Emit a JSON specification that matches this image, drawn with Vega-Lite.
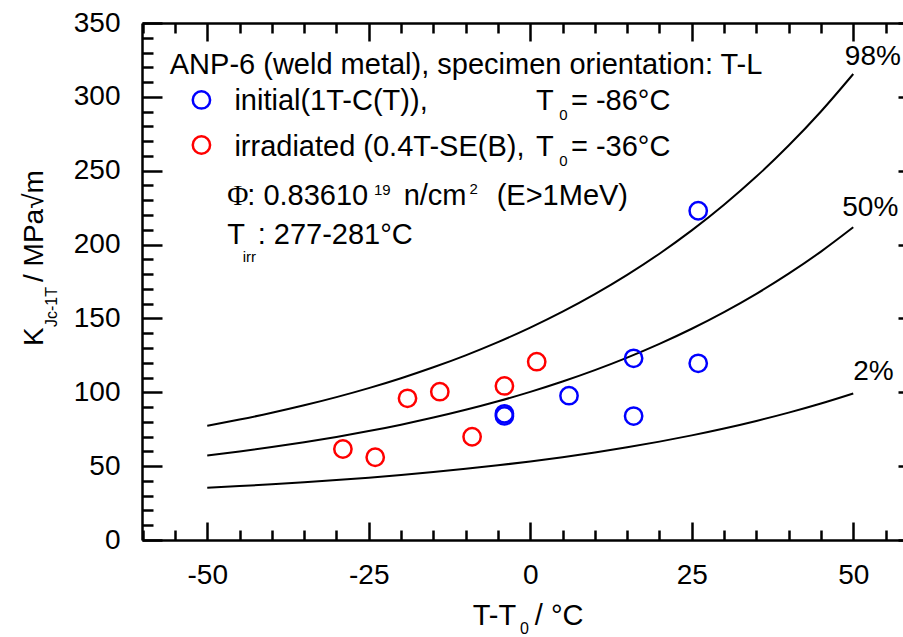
{
  "$schema": "https://vega.github.io/schema/vega-lite/v6.json",
  "width": 761,
  "height": 517,
  "autosize": {"type": "none"},
  "padding": {"left": 142, "top": 23, "right": 0, "bottom": 97},
  "background": "white",
  "config": {"view": {"stroke": null}, "axis": {"grid": false}, "font": "Liberation Sans"},
  "datasets": {
    "curves": [
      {"p": "98%", "T": -50, "K": 77.35}, {"p": "98%", "T": -45, "K": 81.52}, {"p": "98%", "T": -40, "K": 86.11}, {"p": "98%", "T": -35, "K": 91.16}, {"p": "98%", "T": -30, "K": 96.71}, {"p": "98%", "T": -25, "K": 102.81}, {"p": "98%", "T": -20, "K": 109.53}, {"p": "98%", "T": -15, "K": 116.91}, {"p": "98%", "T": -10, "K": 125.02}, {"p": "98%", "T": -5, "K": 133.95}, {"p": "98%", "T": 0, "K": 143.76}, {"p": "98%", "T": 5, "K": 154.55}, {"p": "98%", "T": 10, "K": 166.42}, {"p": "98%", "T": 15, "K": 179.47}, {"p": "98%", "T": 20, "K": 193.82}, {"p": "98%", "T": 25, "K": 209.6}, {"p": "98%", "T": 30, "K": 226.96}, {"p": "98%", "T": 35, "K": 246.03}, {"p": "98%", "T": 40, "K": 267.02}, {"p": "98%", "T": 45, "K": 290.1}, {"p": "98%", "T": 50, "K": 315.48},
      {"p": "50%", "T": -50, "K": 57.21}, {"p": "50%", "T": -45, "K": 59.92}, {"p": "50%", "T": -40, "K": 62.9}, {"p": "50%", "T": -35, "K": 66.17}, {"p": "50%", "T": -30, "K": 69.77}, {"p": "50%", "T": -25, "K": 73.73}, {"p": "50%", "T": -20, "K": 78.09}, {"p": "50%", "T": -15, "K": 82.88}, {"p": "50%", "T": -10, "K": 88.14}, {"p": "50%", "T": -5, "K": 93.93}, {"p": "50%", "T": 0, "K": 100.3}, {"p": "50%", "T": 5, "K": 107.3}, {"p": "50%", "T": 10, "K": 115.0}, {"p": "50%", "T": 15, "K": 123.47}, {"p": "50%", "T": 20, "K": 132.78}, {"p": "50%", "T": 25, "K": 143.02}, {"p": "50%", "T": 30, "K": 154.28}, {"p": "50%", "T": 35, "K": 166.66}, {"p": "50%", "T": 40, "K": 180.28}, {"p": "50%", "T": 45, "K": 195.25}, {"p": "50%", "T": 50, "K": 211.71},
      {"p": "2%", "T": -50, "K": 35.38}, {"p": "2%", "T": -45, "K": 36.5}, {"p": "2%", "T": -40, "K": 37.73}, {"p": "2%", "T": -35, "K": 39.08}, {"p": "2%", "T": -30, "K": 40.57}, {"p": "2%", "T": -25, "K": 42.2}, {"p": "2%", "T": -20, "K": 44.0}, {"p": "2%", "T": -15, "K": 45.98}, {"p": "2%", "T": -10, "K": 48.16}, {"p": "2%", "T": -5, "K": 50.55}, {"p": "2%", "T": 0, "K": 53.18}, {"p": "2%", "T": 5, "K": 56.07}, {"p": "2%", "T": 10, "K": 59.25}, {"p": "2%", "T": 15, "K": 62.75}, {"p": "2%", "T": 20, "K": 66.6}, {"p": "2%", "T": 25, "K": 70.83}, {"p": "2%", "T": 30, "K": 75.48}, {"p": "2%", "T": 35, "K": 80.6}, {"p": "2%", "T": 40, "K": 86.22}, {"p": "2%", "T": 45, "K": 92.41}, {"p": "2%", "T": 50, "K": 99.21}
    ],
    "points": [
      {"series": "initial", "T": -4, "K": 84.0},
      {"series": "initial", "T": -4, "K": 85.4},
      {"series": "initial", "T": 6, "K": 97.7},
      {"series": "initial", "T": 16, "K": 123.0},
      {"series": "initial", "T": 16, "K": 83.9},
      {"series": "initial", "T": 26, "K": 119.6},
      {"series": "initial", "T": 26, "K": 222.9},
      {"series": "irradiated", "T": -29, "K": 61.6},
      {"series": "irradiated", "T": -24, "K": 56.0},
      {"series": "irradiated", "T": -19, "K": 95.9},
      {"series": "irradiated", "T": -14, "K": 100.4},
      {"series": "irradiated", "T": -9, "K": 69.9},
      {"series": "irradiated", "T": -4, "K": 104.3},
      {"series": "irradiated", "T": 1, "K": 120.7}
    ],
    "legendSymbols": [
      {"series": "initial", "x": -50.9, "y": 297.9},
      {"series": "irradiated", "x": -50.9, "y": 267.4}
    ],
    "curveLabels": [
      {"x": 48.7, "y": 321.6, "label": "98%"},
      {"x": 48.3, "y": 219.3, "label": "50%"},
      {"x": 50.0, "y": 108.3, "label": "2%"}
    ],
    "legendText": [
      {"x": -55.8, "y": 315.5, "label": "ANP-6 (weld metal), specimen orientation: T-L"},
      {"x": -45.8, "y": 291.1, "label": "initial(1T-C(T)),"},
      {"x": 0.9, "y": 291.1, "label": "T"},
      {"x": 6.3, "y": 291.1, "label": "= -86°C"},
      {"x": -45.8, "y": 260.0, "label": "irradiated (0.4T-SE(B),"},
      {"x": 0.9, "y": 260.0, "label": "T"},
      {"x": 6.3, "y": 260.0, "label": "= -36°C"},
      {"x": -43.8, "y": 226.8, "label": ": 0.83610"},
      {"x": -19.6, "y": 226.8, "label": "n/cm"},
      {"x": -5.2, "y": 226.8, "label": "(E>1MeV)"},
      {"x": -46.9, "y": 200.4, "label": "T"},
      {"x": -42.2, "y": 200.4, "label": ": 277-281°C"}
    ],
    "legendSmall": [
      {"x": 4.5, "y": 284.3, "label": "0"},
      {"x": 4.5, "y": 253.2, "label": "0"},
      {"x": -24.2, "y": 233.6, "label": "19"},
      {"x": -9.4, "y": 234.2, "label": "2"},
      {"x": -44.5, "y": 188.2, "label": "irr"}
    ],
    "phi": [
      {"x": -46.9, "y": 226.8, "label": "Φ"}
    ],
    "xTitle": [
      {"x": -8.9, "y": -57.5, "label": "T-T"},
      {"x": 0.7, "y": -57.5, "label": "/ °C"}
    ],
    "xTitleSub": [
      {"x": -1.6, "y": -63.8, "label": "0"}
    ],
    "yTitle": [
      {"x": -75.5, "y": 131.3, "label": "K"},
      {"x": -75.5, "y": 174.7, "label": "/ MPa√m"}
    ],
    "yTitleSub": [
      {"x": -73.3, "y": 144.2, "label": "Jc-1T"}
    ]
  },
  "layer": [
    {
      "data": {"name": "curves"},
      "mark": {"type": "line", "color": "black", "strokeWidth": 2, "interpolate": "monotone"},
      "encoding": {
        "detail": {"field": "p"},
        "x": {"field": "T", "type": "quantitative", "scale": {"domain": [-60.1, 57.7], "nice": false, "zero": false},
          "axis": {"orient": "bottom", "values": [-50, -25, 0, 25, 50], "labelExpr": "datum.value < 0 ? '-' + abs(datum.value) : '' + datum.value", "ticks": false, "tickSize": 0, "labels": true, "labelFontSize": 28, "labelFont": "Liberation Sans", "labelColor": "black", "labelPadding": 21, "labelFlush": false, "labelOverlap": false, "domain": true, "domainColor": "black", "domainWidth": 2.5, "title": null, "grid": false}},
        "y": {"field": "K", "type": "quantitative", "scale": {"domain": [0, 350], "nice": false, "zero": false},
          "axis": {"orient": "left", "values": [0, 50, 100, 150, 200, 250, 300, 350], "ticks": false, "tickSize": 0, "labels": true, "labelFontSize": 28, "labelFont": "Liberation Sans", "labelColor": "black", "labelPadding": 22, "labelFlush": false, "labelOverlap": false, "domain": true, "domainColor": "black", "domainWidth": 2.5, "title": null, "grid": false}}
      }
    },
    {
      "data": {"name": "points"},
      "mark": {"type": "point", "shape": "circle", "filled": false, "size": 300, "strokeWidth": 2.5, "opacity": 1},
      "encoding": {
        "x": {"field": "T", "type": "quantitative", "scale": {"domain": [-60.1, 57.7], "nice": false, "zero": false},
          "axis": {"orient": "bottom", "values": [-50, -25, 0, 25, 50], "labels": false, "domain": false, "ticks": true, "tickSize": -18, "tickWidth": 2.5, "tickColor": "black", "title": null, "grid": false}},
        "y": {"field": "K", "type": "quantitative", "scale": {"domain": [0, 350], "nice": false, "zero": false},
          "axis": {"orient": "left", "values": [0, 50, 100, 150, 200, 250, 300, 350], "labels": false, "domain": false, "ticks": true, "tickSize": -20, "tickWidth": 2.5, "tickColor": "black", "title": null, "grid": false}},
        "color": {"field": "series", "type": "nominal", "scale": {"domain": ["initial", "irradiated"], "range": ["#0000ff", "#ff0000"]}, "legend": null}
      }
    },
    {
      "data": {"name": "curveLabels"},
      "mark": {"type": "text", "font": "Liberation Sans", "fontSize": 28, "align": "left", "baseline": "alphabetic", "color": "black"},
      "encoding": {
        "x": {"field": "x", "type": "quantitative", "scale": {"domain": [-60.1, 57.7], "nice": false, "zero": false},
          "axis": {"orient": "bottom", "values": [-60, -55, -45, -40, -35, -30, -20, -15, -10, -5, 5, 10, 15, 20, 30, 35, 40, 45, 55], "labels": false, "domain": false, "ticks": true, "tickSize": -10, "tickWidth": 2.5, "tickColor": "black", "title": null, "grid": false}},
        "y": {"field": "y", "type": "quantitative", "scale": {"domain": [0, 350], "nice": false, "zero": false},
          "axis": {"orient": "left", "values": [10, 20, 30, 40, 60, 70, 80, 90, 110, 120, 130, 140, 160, 170, 180, 190, 210, 220, 230, 240, 260, 270, 280, 290, 310, 320, 330, 340], "labels": false, "domain": false, "ticks": true, "tickSize": -11, "tickWidth": 2.5, "tickColor": "black", "title": null, "grid": false}},
        "text": {"field": "label"}
      }
    },
    {
      "data": {"name": "legendText"},
      "mark": {"type": "text", "font": "Liberation Sans", "fontSize": 29, "align": "left", "baseline": "alphabetic", "color": "black"},
      "encoding": {
        "x": {"field": "x", "type": "quantitative", "scale": {"domain": [-60.1, 57.7], "nice": false, "zero": false},
          "axis": {"orient": "top", "values": [-50, -25, 0, 25, 50], "labels": false, "domain": true, "domainColor": "black", "domainWidth": 2.5, "ticks": true, "tickSize": -18, "tickWidth": 2.5, "tickColor": "black", "title": null, "grid": false}},
        "y": {"field": "y", "type": "quantitative", "scale": {"domain": [0, 350], "nice": false, "zero": false},
          "axis": {"orient": "right", "values": [0, 50, 100, 150, 200, 250, 300, 350], "labels": false, "domain": false, "ticks": true, "tickSize": -5, "tickWidth": 2.5, "tickColor": "black", "title": null, "grid": false}},
        "text": {"field": "label"}
      }
    },
    {
      "data": {"name": "legendSmall"},
      "mark": {"type": "text", "font": "Liberation Sans", "fontSize": 15, "align": "left", "baseline": "alphabetic", "color": "black"},
      "encoding": {
        "x": {"field": "x", "type": "quantitative", "scale": {"domain": [-60.1, 57.7], "nice": false, "zero": false},
          "axis": {"orient": "top", "values": [-60, -55, -45, -40, -35, -30, -20, -15, -10, -5, 5, 10, 15, 20, 30, 35, 40, 45, 55], "labels": false, "domain": false, "ticks": true, "tickSize": -10, "tickWidth": 2.5, "tickColor": "black", "title": null, "grid": false}},
        "y": {"field": "y", "type": "quantitative", "scale": {"domain": [0, 350], "nice": false, "zero": false}, "axis": null},
        "text": {"field": "label"}
      }
    },
    {
      "data": {"name": "phi"},
      "mark": {"type": "text", "font": "Liberation Serif", "fontSize": 29, "align": "left", "baseline": "alphabetic", "color": "black"},
      "encoding": {
        "x": {"field": "x", "type": "quantitative", "scale": {"domain": [-60.1, 57.7], "nice": false, "zero": false}, "axis": null},
        "y": {"field": "y", "type": "quantitative", "scale": {"domain": [0, 350], "nice": false, "zero": false}, "axis": null},
        "text": {"field": "label"}
      }
    },
    {
      "data": {"name": "legendSymbols"},
      "mark": {"type": "point", "shape": "circle", "filled": false, "size": 300, "strokeWidth": 2.5, "opacity": 1},
      "encoding": {
        "x": {"field": "x", "type": "quantitative", "scale": {"domain": [-60.1, 57.7], "nice": false, "zero": false}, "axis": null},
        "y": {"field": "y", "type": "quantitative", "scale": {"domain": [0, 350], "nice": false, "zero": false}, "axis": null},
        "color": {"field": "series", "type": "nominal", "scale": {"domain": ["initial", "irradiated"], "range": ["#0000ff", "#ff0000"]}, "legend": null}
      }
    },
    {
      "data": {"name": "xTitle"},
      "mark": {"type": "text", "font": "Liberation Sans", "fontSize": 29, "align": "left", "baseline": "alphabetic", "color": "black"},
      "encoding": {
        "x": {"field": "x", "type": "quantitative", "scale": {"domain": [-60.1, 57.7], "nice": false, "zero": false}, "axis": null},
        "y": {"field": "y", "type": "quantitative", "scale": {"domain": [0, 350], "nice": false, "zero": false}, "axis": null},
        "text": {"field": "label"}
      }
    },
    {
      "data": {"name": "xTitleSub"},
      "mark": {"type": "text", "font": "Liberation Sans", "fontSize": 16, "align": "left", "baseline": "alphabetic", "color": "black"},
      "encoding": {
        "x": {"field": "x", "type": "quantitative", "scale": {"domain": [-60.1, 57.7], "nice": false, "zero": false}, "axis": null},
        "y": {"field": "y", "type": "quantitative", "scale": {"domain": [0, 350], "nice": false, "zero": false}, "axis": null},
        "text": {"field": "label"}
      }
    },
    {
      "data": {"name": "yTitle"},
      "mark": {"type": "text", "font": "Liberation Sans", "fontSize": 28, "align": "left", "baseline": "alphabetic", "angle": 270, "color": "black"},
      "encoding": {
        "x": {"field": "x", "type": "quantitative", "scale": {"domain": [-60.1, 57.7], "nice": false, "zero": false}, "axis": null},
        "y": {"field": "y", "type": "quantitative", "scale": {"domain": [0, 350], "nice": false, "zero": false}, "axis": null},
        "text": {"field": "label"}
      }
    },
    {
      "data": {"name": "yTitleSub"},
      "mark": {"type": "text", "font": "Liberation Sans", "fontSize": 16, "align": "left", "baseline": "alphabetic", "angle": 270, "color": "black"},
      "encoding": {
        "x": {"field": "x", "type": "quantitative", "scale": {"domain": [-60.1, 57.7], "nice": false, "zero": false}, "axis": null},
        "y": {"field": "y", "type": "quantitative", "scale": {"domain": [0, 350], "nice": false, "zero": false}, "axis": null},
        "text": {"field": "label"}
      }
    }
  ],
  "resolve": {"axis": {"x": "independent", "y": "independent"}}
}
